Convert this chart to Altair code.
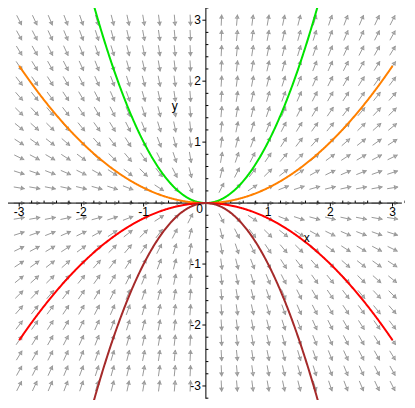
import math
import altair as alt
import numpy as np
import pandas as pd

# ---- data ----
grid_x = [-3.0, -2.75, -2.5, -2.25, -2.0, -1.75, -1.5, -1.25, -1.0, -0.75, -0.5, -0.25,
          0.25, 0.5, 0.75, 1.0, 1.25, 1.5, 1.75, 2.0, 2.25, 2.5, 2.75, 3.0]
grid_y = [-3.0, -2.75, -2.5, -2.25, -2.0, -1.75, -1.5, -1.25, -1.0, -0.75, -0.5, -0.25, 0.0,
          0.25, 0.5, 0.75, 1.0, 1.25, 1.5, 1.75, 2.0, 2.25, 2.5, 2.75, 3.0]
curve_names = ["c=1", "c=1/4", "c=-1/4", "c=-1"]
curve_coeffs = [1.0, 0.25, -0.25, -1.0]
curve_colors = ["#00e400", "#ff8000", "#ff0000", "#a52a2a"]
major_ticks = [-3, -2, -1, 1, 2, 3]
tick_labels = ["-3", "-2", "-1", "1", "2", "3"]

XMIN, XMAX = -3.18, 3.2
YMIN, YMAX = -3.23, 3.2
W, H = 397, 392
sx = W / (XMAX - XMIN)
sy = H / (YMAX - YMIN)

xs = alt.Scale(domain=[XMIN, XMAX], nice=False, zero=False)
ys = alt.Scale(domain=[YMIN, YMAX], nice=False, zero=False)

# ---- direction field dy/dx = 2y/x ----
L = 11.0
rows = []
for x in grid_x:
    for y in grid_y:
        px, py = sx * 1.0, sy * (2 * y / x)
        n = math.hypot(px, py)
        ux, uy = px / n, py / n
        hx, hy = L / 2 * ux / sx, L / 2 * uy / sy
        rows.append(dict(x0=x - hx, y0=y - hy, x1=x + hx, y1=y + hy,
                         hxp=x + hx - 2.0 * ux / sx, hyp=y + hy - 2.0 * uy / sy,
                         ang=math.degrees(math.atan2(ux, uy)) % 360))
field = pd.DataFrame(rows)

arrow_lines = alt.Chart(field).mark_rule(color="#9a9a9a", strokeWidth=1).encode(
    x=alt.X("x0:Q", scale=xs, axis=None), y=alt.Y("y0:Q", scale=ys, axis=None),
    x2="x1:Q", y2="y1:Q")
arrow_heads = alt.Chart(field).mark_point(shape="triangle-up", filled=False, color="#9a9a9a",
                                          size=11, strokeWidth=1, opacity=1).encode(
    x=alt.X("hxp:Q", scale=xs, axis=None), y=alt.Y("hyp:Q", scale=ys, axis=None),
    angle=alt.Angle("ang:Q", scale=None))

# ---- solution curves y = c x^2 ----
crow = []
xv = np.linspace(-3, 3, 601)
for name, c in zip(curve_names, curve_coeffs):
    for x in xv:
        yv = c * x * x
        if abs(yv) <= 3.3:
            crow.append(dict(curve=name, x=float(x), y=float(yv)))
curves_df = pd.DataFrame(crow)
curves = alt.Chart(curves_df).mark_line(strokeWidth=2, clip=True).encode(
    x=alt.X("x:Q", scale=xs, axis=None), y=alt.Y("y:Q", scale=ys, axis=None),
    color=alt.Color("curve:N", scale=alt.Scale(domain=curve_names, range=curve_colors), legend=None),
    order="x:Q")

# ---- axes through the origin ----
axes_df = pd.DataFrame([dict(x0=XMIN, y0=0.0, x1=XMAX - 0.05, y1=0.0),
                        dict(x0=0.0, y0=YMIN + 0.02, x1=0.0, y1=YMAX)])
axes = alt.Chart(axes_df).mark_rule(color="black", strokeWidth=1).encode(
    x=alt.X("x0:Q", scale=xs, axis=None), y=alt.Y("y0:Q", scale=ys, axis=None),
    x2="x1:Q", y2="y1:Q")

tk = []
for t in major_ticks:
    tk.append(dict(x0=t, y0=0.0, x1=t, y1=-3.5 / sy))
    tk.append(dict(x0=0.0, y0=t, x1=-3.5 / sx, y1=t))
minor = [round(v, 1) for v in np.arange(-3.2, 3.21, 0.2)]
for m in minor:
    if abs(m - round(m)) > 1e-6:
        tk.append(dict(x0=m, y0=0.0, x1=m, y1=2.5 / sy))
        tk.append(dict(x0=0.0, y0=m, x1=2.5 / sx, y1=m))
ticks = alt.Chart(pd.DataFrame(tk)).mark_rule(color="black", strokeWidth=1).encode(
    x=alt.X("x0:Q", scale=xs, axis=None), y=alt.Y("y0:Q", scale=ys, axis=None),
    x2="x1:Q", y2="y1:Q")

font = "Liberation Sans"
xlab = alt.Chart(pd.DataFrame(dict(v=major_ticks, z=[0.0] * 6, t=tick_labels))).mark_text(
    font=font, fontSize=12, align="center", baseline="top", dy=4, color="black").encode(
    x=alt.X("v:Q", scale=xs, axis=None), y=alt.Y("z:Q", scale=ys, axis=None), text="t:N")
ylab = alt.Chart(pd.DataFrame(dict(v=major_ticks, z=[0.0] * 6, t=tick_labels))).mark_text(
    font=font, fontSize=12, align="right", baseline="middle", dx=-5, color="black").encode(
    x=alt.X("z:Q", scale=xs, axis=None), y=alt.Y("v:Q", scale=ys, axis=None), text="t:N")
zero = alt.Chart(pd.DataFrame(dict(x=[0.0], y=[0.0], t=["0"]))).mark_text(
    font=font, fontSize=12, align="right", baseline="top", dx=-3, dy=1, color="black").encode(
    x=alt.X("x:Q", scale=xs, axis=None), y=alt.Y("y:Q", scale=ys, axis=None), text="t:N")
names = alt.Chart(pd.DataFrame(dict(x=[-0.5, 1.62], y=[1.6, -0.57], t=["y", "x"]))).mark_text(
    font=font, fontSize=12, align="center", baseline="middle", color="black").encode(
    x=alt.X("x:Q", scale=xs, axis=None), y=alt.Y("y:Q", scale=ys, axis=None), text="t:N")

chart = alt.layer(arrow_lines, arrow_heads, axes, ticks, curves, xlab, ylab, zero, names).properties(
    width=W, height=H, padding=0, autosize="none"
).configure_view(stroke=None)

chart.save("out.html", embed_options={"renderer": "svg", "actions": False})
